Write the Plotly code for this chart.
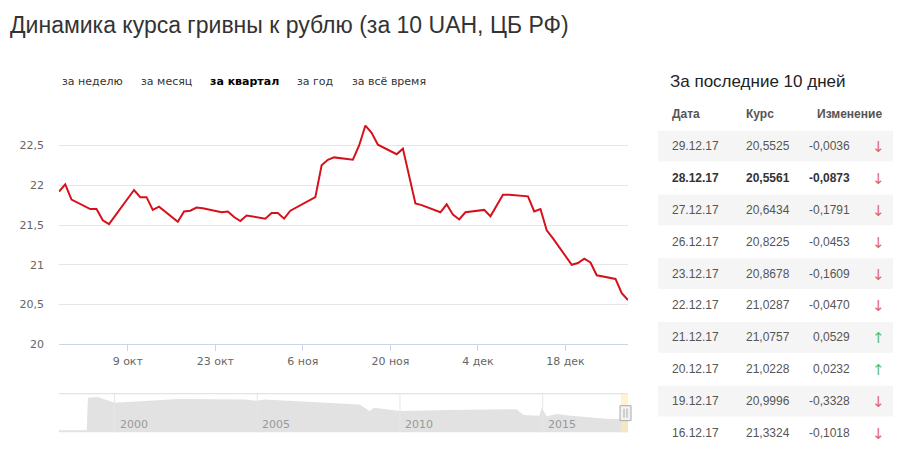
import plotly.graph_objects as go

# ---------------- data ----------------
dates = ["2017-09-28", "2017-09-29", "2017-09-30", "2017-10-03", "2017-10-04", "2017-10-05",
         "2017-10-06", "2017-10-10", "2017-10-11", "2017-10-12", "2017-10-13", "2017-10-14",
         "2017-10-17", "2017-10-18", "2017-10-19", "2017-10-20", "2017-10-21", "2017-10-24",
         "2017-10-25", "2017-10-26", "2017-10-27", "2017-10-28", "2017-10-31", "2017-11-01",
         "2017-11-02", "2017-11-03", "2017-11-04", "2017-11-08", "2017-11-09", "2017-11-10",
         "2017-11-11", "2017-11-14", "2017-11-15", "2017-11-16", "2017-11-17", "2017-11-18",
         "2017-11-21", "2017-11-22", "2017-11-24", "2017-11-25", "2017-11-28", "2017-11-29",
         "2017-11-30", "2017-12-01", "2017-12-02", "2017-12-05", "2017-12-06", "2017-12-08",
         "2017-12-09", "2017-12-12", "2017-12-13", "2017-12-14", "2017-12-15", "2017-12-16",
         "2017-12-19", "2017-12-20", "2017-12-21", "2017-12-22", "2017-12-23", "2017-12-26",
         "2017-12-27", "2017-12-28"]
rates = [21.92, 22.01, 21.82, 21.70, 21.70, 21.56,
         21.51, 21.94, 21.85, 21.85, 21.69, 21.73,
         21.54, 21.67, 21.68, 21.72, 21.71, 21.66,
         21.67, 21.60, 21.55, 21.62, 21.58, 21.65,
         21.65, 21.58, 21.68, 21.85, 22.25, 22.32,
         22.35, 22.32, 22.50, 22.75, 22.66, 22.51,
         22.39, 22.46, 21.77, 21.75, 21.66, 21.76,
         21.63, 21.57, 21.66, 21.69, 21.61, 21.88,
         21.88, 21.86, 21.67, 21.70, 21.4342, 21.3324,
         20.9996, 21.0228, 21.0757, 21.0287, 20.8678, 20.8225,
         20.6434, 20.5561]

x_tick_vals = ["2017-10-09", "2017-10-23", "2017-11-06", "2017-11-20", "2017-12-04", "2017-12-18"]
x_tick_text = ["9 окт", "23 окт", "6 ноя", "20 ноя", "4 дек", "18 дек"]
y_tick_vals = [20, 20.5, 21, 21.5, 22, 22.5, 23]
y_tick_text = ["20", "20,5", "21", "21,5", "22", "22,5", ""]

nav_dates = ["1998-01-20", "1999-01-10", "1999-01-25", "1999-06-01", "2000-01-01", "2002-04-01",
             "2004-08-01", "2005-01-01", "2005-04-01", "2008-08-01", "2008-12-10", "2009-02-01",
             "2010-01-01", "2011-09-01", "2014-02-01", "2014-05-01", "2014-11-20", "2014-12-20",
             "2015-02-20", "2015-07-01", "2016-01-01", "2016-12-01", "2017-05-01", "2017-12-28"]
nav_values = [3.5, 3.5, 54, 55, 46, 52,
              51, 49, 51, 43.5, 33.5, 38.5,
              33.5, 35, 36, 27, 26, 38.5,
              25, 28.5, 26, 22.5, 21, 21]
nav_years = ["2000", "2005", "2010", "2015"]

range_buttons = ["за неделю", "за месяц", "за квартал", "за год", "за всё время"]
range_active = "за квартал"

table_dates = ["29.12.17", "28.12.17", "27.12.17", "26.12.17", "23.12.17",
               "22.12.17", "21.12.17", "20.12.17", "19.12.17", "16.12.17"]
table_rates = [20.5525, 20.5561, 20.6434, 20.8225, 20.8678,
               21.0287, 21.0757, 21.0228, 20.9996, 21.3324]
table_changes = [-0.0036, -0.0873, -0.1791, -0.0453, -0.1609,
                 -0.0470, 0.0529, 0.0232, -0.3328, -0.1018]
table_bold = "28.12.17"

# ---------------- layout helpers ----------------
W, H = 901, 452
def px(x):
    return x / W
def py(y):
    # small vertical correction of the capture
    yy = y * 1.01 + 2
    return 1 - yy / H

def fmt(v):
    return f"{v:.4f}".replace(".", ",")

SANS = "Liberation Sans, Arial, sans-serif"
LUC = "DejaVu Sans, Verdana, sans-serif"

fig = go.Figure()

fig.add_trace(go.Scatter(
    x=dates, y=rates, mode="lines",
    line=dict(color="#d5121b", width=2),
    xaxis="x", yaxis="y", hoverinfo="skip", showlegend=False))

fig.add_trace(go.Scatter(
    x=nav_dates, y=nav_values, mode="lines", fill="tozeroy",
    line=dict(color="rgba(0,0,0,0)", width=0),
    fillcolor="#e2e2e2",
    xaxis="x2", yaxis="y2", hoverinfo="skip", showlegend=False))

plot_l, plot_r = 59, 628
main_top, main_bot = 104.3, 344.3
nav_top, nav_bot = 394, 433

shapes = []
annotations = []

# navigator year grid lines and labels
for yr in nav_years:
    shapes.append(dict(type="line", xref="x2", yref="paper",
                       x0=f"{yr}-01-01", x1=f"{yr}-01-01",
                       y0=py(nav_bot), y1=py(nav_top),
                       line=dict(color="#e6e6e6", width=1), layer="above"))
    annotations.append(dict(text=yr, xref="x2", yref="paper", x=f"{yr}-01-01",
                            y=py(425), xanchor="left", yanchor="middle", xshift=3,
                            showarrow=False, font=dict(family=LUC, size=11, color="#999999")))
# navigator top line
shapes.append(dict(type="line", xref="paper", yref="paper", x0=px(plot_l), x1=px(plot_r),
                   y0=py(nav_top), y1=py(nav_top), line=dict(color="#dcdcdc", width=1)))
# selection band (range of the main chart)
shapes.append(dict(type="rect", xref="x2", yref="paper", x0=dates[0], x1=dates[-1],
                   y0=py(nav_bot), y1=py(nav_top), fillcolor="rgba(255,235,160,0.55)",
                   line=dict(width=0), layer="above"))
# handle
shapes.append(dict(type="rect", xref="paper", yref="paper", x0=px(620), x1=px(631),
                   y0=py(421), y1=py(406), fillcolor="#f2f2f2",
                   line=dict(color="#aaaaaa", width=1), layer="above"))
for hx in (624, 627):
    shapes.append(dict(type="line", xref="paper", yref="paper", x0=px(hx), x1=px(hx),
                       y0=py(418), y1=py(409), line=dict(color="#aaaaaa", width=1), layer="above"))

# title
annotations.append(dict(text="Динамика курса гривны к рублю (за 10 UAH, ЦБ РФ)",
                        xref="paper", yref="paper", x=px(8), y=py(23),
                        xanchor="left", yanchor="middle", showarrow=False,
                        font=dict(family=SANS, size=23, color="#333333")))

# range buttons
btn_x = [60, 139, 208, 295, 350]
for bx, label in zip(btn_x, range_buttons):
    txt = f"<b>{label}</b>" if label == range_active else label
    annotations.append(dict(text=txt, xref="paper", yref="paper", x=px(bx), y=py(80),
                            xanchor="left", yanchor="middle", showarrow=False,
                            font=dict(family=LUC, size=11,
                                      color="#000000" if label == range_active else "#333333")))

# right table
annotations.append(dict(text="За последние 10 дней", xref="paper", yref="paper",
                        x=px(668), y=py(80), xanchor="left", yanchor="middle", showarrow=False,
                        font=dict(family=SANS, size=17, color="#222222")))
for hx, ht in zip([670, 744, 815], ["Дата", "Курс", "Изменение"]):
    annotations.append(dict(text=f"<b>{ht}</b>", xref="paper", yref="paper",
                            x=px(hx), y=py(113), xanchor="left", yanchor="middle",
                            showarrow=False, font=dict(family=SANS, size=12, color="#555555")))

row0, pitch = 145.0, 32.05
for i, (d, r, c) in enumerate(zip(table_dates, table_rates, table_changes)):
    yc = row0 + i * pitch
    if i % 2 == 0:
        shapes.append(dict(type="rect", xref="paper", yref="paper", x0=px(658), x1=px(893),
                           y0=py(yc + pitch / 2 - 0.5), y1=py(yc - pitch / 2 + 0.5),
                           fillcolor="#f5f5f5", line=dict(width=0), layer="below"))
    bold = d == table_bold
    col = "#333333" if bold else "#555555"
    def wrap(t):
        return f"<b>{t}</b>" if bold else t
    annotations.append(dict(text=wrap(d), xref="paper", yref="paper", x=px(670), y=py(yc),
                            xanchor="left", yanchor="middle", showarrow=False,
                            font=dict(family=SANS, size=12, color=col)))
    annotations.append(dict(text=wrap(fmt(r)), xref="paper", yref="paper", x=px(744), y=py(yc),
                            xanchor="left", yanchor="middle", showarrow=False,
                            font=dict(family=SANS, size=12, color=col)))
    annotations.append(dict(text=wrap(fmt(c)), xref="paper", yref="paper", x=px(852), y=py(yc),
                            xanchor="right", yanchor="middle", showarrow=False,
                            font=dict(family=SANS, size=12, color=col)))
    up = c > 0
    annotations.append(dict(text="↑" if up else "↓", xref="paper", yref="paper",
                            x=px(878), y=py(yc + 1), xanchor="center", yanchor="middle",
                            showarrow=False,
                            font=dict(family="DejaVu Sans", size=15,
                                      color="#5cbf6a" if up else "#e2676c")))

fig.update_layout(
    width=W, height=H, autosize=False,
    margin=dict(l=0, r=0, t=0, b=0),
    paper_bgcolor="white", plot_bgcolor="white",
    showlegend=False,
    xaxis=dict(domain=[px(plot_l), px(plot_r)], anchor="y", type="date",
               range=[dates[0], dates[-1]],
               tickvals=x_tick_vals, ticktext=x_tick_text,
               ticks="outside", ticklen=6, tickcolor="#ccd6eb",
               showline=True, linecolor="#ccd6eb", linewidth=1,
               showgrid=False, zeroline=False,
               tickfont=dict(family=LUC, size=11, color="#666666")),
    yaxis=dict(domain=[py(main_bot), py(main_top)], anchor="x",
               range=[20, 23], tickvals=y_tick_vals, ticktext=y_tick_text,
               showgrid=True, gridcolor="#e6e6e6", gridwidth=1, zeroline=False,
               showline=False, ticks="", ticklabelstandoff=14,
               tickfont=dict(family=LUC, size=11, color="#666666")),
    xaxis2=dict(domain=[px(plot_l), px(plot_r)], anchor="y2", type="date",
                range=["1998-01-20", "2017-12-28"],
                showticklabels=False, showgrid=False, zeroline=False, showline=False, ticks=""),
    yaxis2=dict(domain=[py(nav_bot), py(nav_top)], anchor="x2", range=[0, 60],
                showticklabels=False, showgrid=False, zeroline=False, showline=False, ticks=""),
    shapes=shapes,
    annotations=annotations,
)

fig.write_html("out.html", config={"displayModeBar": False, "staticPlot": True},
               post_script="document.body.style.margin='0';document.body.style.overflow='hidden';")
